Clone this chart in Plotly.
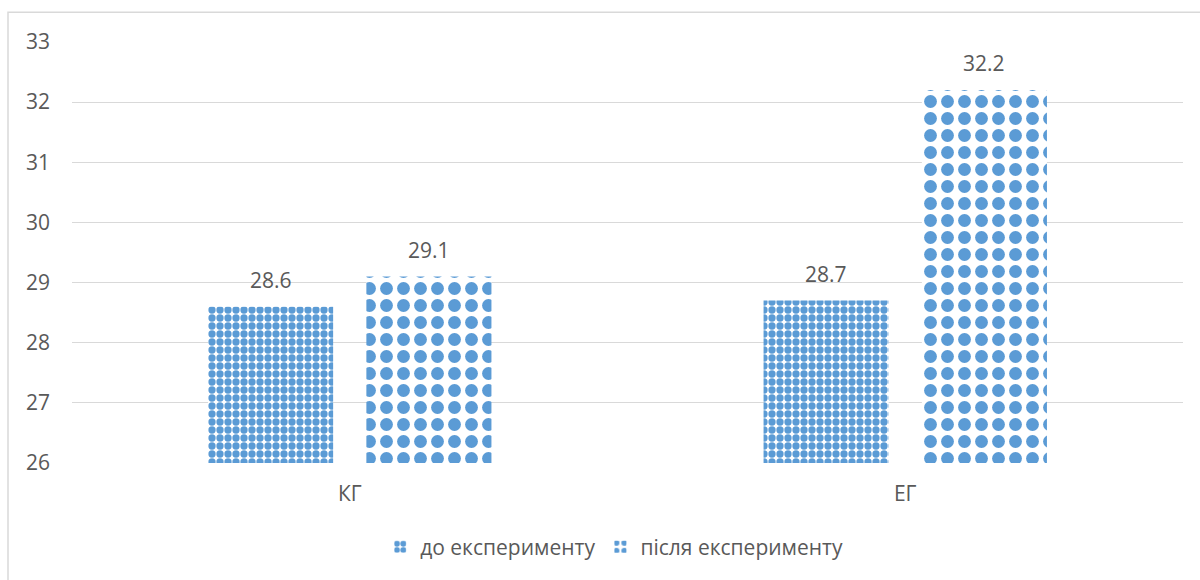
import plotly.graph_objects as go

categories = ["КГ", "ЕГ"]
series_names = ["до експерименту", "після експерименту"]
before = [28.6, 28.7]
after = [29.1, 32.2]
y_ticks = [26, 27, 28, 29, 30, 31, 32, 33]

BLUE = "#5B9BD5"
TXT = "#595959"
FONT = "Open Sans"
FS = 21

fig = go.Figure()
fig.add_trace(go.Bar(
    name=series_names[0], x=categories, y=before,
    marker=dict(color="white", line=dict(width=0),
                pattern=dict(shape=".", fgcolor=BLUE, bgcolor="white",
                             size=8, solidity=0.65, fillmode="replace")),
))
fig.add_trace(go.Bar(
    name=series_names[1], x=categories, y=after,
    marker=dict(color="white", line=dict(width=0),
                pattern=dict(shape=".", fgcolor=BLUE, bgcolor="white",
                             size=17, solidity=0.45, fillmode="replace")),
))

# data labels as annotations above each bar
annotations = []
for series, shift in ((before, -79), (after, 79)):
    for cat, val in zip(categories, series):
        annotations.append(dict(x=cat, y=val, xref="x", yref="y", text=f"{val:.1f}",
                                showarrow=False, xshift=shift, yshift=11,
                                yanchor="bottom",
                                font=dict(size=FS, color=TXT, family=FONT)))

L, R, T, B = 72, 17, 42, 115
W, H = 1200, 580
pw, ph = W - L - R, H - T - B

fig.update_layout(
    width=W, height=H,
    margin=dict(l=L, r=R, t=T, b=B),
    paper_bgcolor="white", plot_bgcolor="white",
    barmode="group", bargap=0.43, bargroupgap=0.21,
    font=dict(family=FONT, color=TXT, size=FS),
    showlegend=True,
    legend=dict(orientation="h", x=0.488, xanchor="center", y=-0.2, yanchor="middle",
                font=dict(size=FS, color=TXT, family=FONT), itemwidth=30,
                traceorder="normal"),
    xaxis=dict(showgrid=False, showline=False, ticks="", ticklabelstandoff=16,
               tickfont=dict(size=FS, color=TXT)),
    yaxis=dict(range=[26, 33], tickvals=y_ticks, showgrid=True, gridcolor="#D9D9D9",
               gridwidth=1, zeroline=False, showline=False, ticks="",
               ticklabelstandoff=21, tickfont=dict(size=FS, color=TXT)),
    annotations=annotations,
    shapes=[dict(type="rect", xref="paper", yref="paper",
                 x0=(8 - L) / pw, x1=1 + (R + 10) / pw,
                 y0=-(B + 10) / ph, y1=1 + (T - 12) / ph,
                 line=dict(color="#D9D9D9", width=1.5), fillcolor="rgba(0,0,0,0)",
                 layer="below")],
)

fig.write_html("out.html")
